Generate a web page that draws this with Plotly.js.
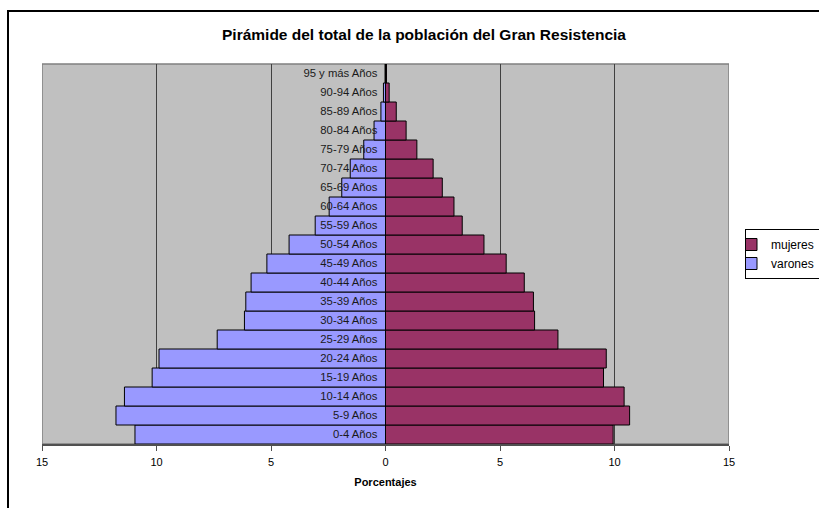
<!DOCTYPE html>
<html>
<head>
<meta charset="utf-8">
<script src="https://cdn.plot.ly/plotly-3.0.1.min.js"></script>
<style>
html,body{margin:0;padding:0;background:#fff;}
#chart{width:819px;height:508px;}
</style>
</head>
<body>
<div id="chart"></div>
<script>
var categories = ["0-4 Años","5-9 Años","10-14 Años","15-19 Años","20-24 Años","25-29 Años","30-34 Años","35-39 Años","40-44 Años","45-49 Años","50-54 Años","55-59 Años","60-64 Años","65-69 Años","70-74 Años","75-79 Años","80-84 Años","85-89 Años","90-94 Años","95 y más Años"];
var mujeres = [9.94,10.66,10.42,9.52,9.64,7.53,6.51,6.46,6.06,5.27,4.30,3.35,2.99,2.48,2.08,1.37,0.90,0.47,0.16,0.04];
var varones = [10.94,11.77,11.40,10.19,9.89,7.35,6.16,6.10,5.87,5.18,4.21,3.07,2.46,1.91,1.54,0.95,0.50,0.20,0.09,0.02];
var tickVals = [-15,-10,-5,0,5,10,15];
var tickText = ["15","10","5","0","5","10","15"];

var traces = [
  {type:"bar", orientation:"h", name:"mujeres", y:categories, x:mujeres,
   marker:{color:"#993366", line:{color:"#000", width:1}}, hoverinfo:"none"},
  {type:"bar", orientation:"h", name:"varones", y:categories, x:varones.map(function(v){return -v;}),
   marker:{color:"#9999ff", line:{color:"#000", width:1}}, hoverinfo:"none"}
];

var layout = {
  width:819, height:508,
  margin:{l:42, r:90, t:64, b:64, autoexpand:false},
  paper_bgcolor:"#ffffff",
  plot_bgcolor:"#c0c0c0",
  font:{family:"Liberation Sans, Arial, sans-serif", size:11, color:"#000"},
  title:{text:"<b>Pirámide del total de la población del Gran Resistencia</b>",
         font:{size:15.5, color:"#000"}, x:424/819, xref:"container", xanchor:"center",
         y:1-35/508, yref:"container", yanchor:"middle"},
  barmode:"relative",
  bargap:0,
  showlegend:true,
  legend:{x:(745-42)/687, y:(444-229)/380, xanchor:"left", yanchor:"top", bgcolor:"#fff",
          bordercolor:"#000", borderwidth:1, font:{size:12, color:"#000"},
          traceorder:"normal", itemwidth:30, tracegroupgap:0, indentation:-15},
  xaxis:{range:[-15,15], tickvals:tickVals, ticktext:tickText,
         showgrid:true, gridcolor:"#404040", gridwidth:1,
         zeroline:true, zerolinecolor:"#000", zerolinewidth:2,
         showline:true, linecolor:"#505050", linewidth:1.5, mirror:false,
         ticks:"outside", ticklen:5, tickcolor:"#505050", ticklabelstandoff:2,
         tickfont:{size:11, color:"#000"},
         title:{text:"<b>Porcentajes</b>", font:{size:11, color:"#000"}, standoff:11},
         fixedrange:true},
  yaxis:{type:"category", anchor:"free", position:0.5, side:"left",
         showline:false, showgrid:false, zeroline:false, ticks:"",
         ticklabelstandoff:8,
         tickfont:{size:11.3, color:"#1a1a1a"}, fixedrange:true, automargin:false},
  shapes:[
    {type:"rect", xref:"x", yref:"paper", x0:-15, x1:15, y0:0, y1:1,
     line:{color:"#808080", width:1.5}, fillcolor:"rgba(0,0,0,0)", layer:"below"},
    {type:"rect", xref:"paper", yref:"paper", x0:(8-42)/687, x1:1.3, y0:-0.3, y1:(444-11)/380,
     line:{color:"#000", width:2}, fillcolor:"rgba(0,0,0,0)", layer:"below"}
  ]
};

Plotly.newPlot("chart", traces, layout, {displayModeBar:false, staticPlot:true});
</script>
</body>
</html>
